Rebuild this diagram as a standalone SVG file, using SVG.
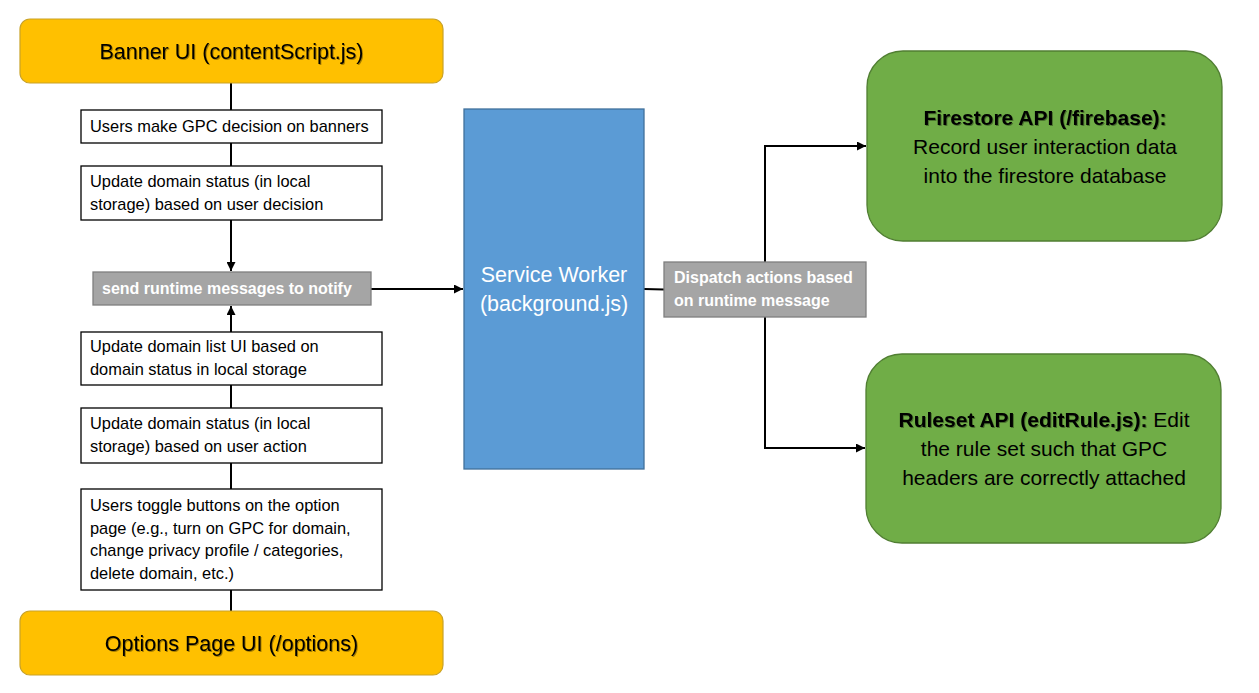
<svg xmlns="http://www.w3.org/2000/svg" width="1259" height="693" viewBox="0 0 1259 693">
<style>
text{font-family:"Liberation Sans",Arial,sans-serif;}
.yel{fill:#FFC000;stroke:#C9A227;stroke-width:1.2;}
.box{fill:#FFFFFF;stroke:#000000;stroke-width:1.3;}
.gray{fill:#A5A5A5;stroke:#7F7F7F;stroke-width:1.3;}
.blue{fill:#5B9BD5;stroke:#41719C;stroke-width:1.3;}
.green{fill:#70AD47;stroke:#507E32;stroke-width:1.3;}
.t16{font-size:16.4px;fill:#000;}
.tw{font-size:16px;font-weight:bold;fill:#FFFFFF;}
.big{font-size:21.5px;fill:#000;}
.sw{font-size:21.5px;fill:#FFFFFF;}
.gt{font-size:21px;fill:#000;}
.ln{stroke:#000;stroke-width:2;fill:none;}
</style>
<defs>
<marker id="arr" viewBox="0 0 10 10" refX="10" refY="5" markerWidth="4.5" markerHeight="4.5" orient="auto" markerUnits="strokeWidth">
<path d="M0,0 L10,5 L0,10 z" fill="#000"/>
</marker>
<filter id="sh" x="-5%" y="-20%" width="110%" height="140%">
<feDropShadow dx="1" dy="1" stdDeviation="0.6" flood-color="#000" flood-opacity="0.35"/>
</filter>
</defs>
<g id="connectors">
<line class="ln" x1="231" y1="83" x2="231" y2="110"/>
<line class="ln" x1="231" y1="143" x2="231" y2="166"/>
<line class="ln" x1="231" y1="220" x2="231" y2="271" marker-end="url(#arr)"/>
<line class="ln" x1="231" y1="332" x2="231" y2="306" marker-end="url(#arr)"/>
<line class="ln" x1="231" y1="385" x2="231" y2="408"/>
<line class="ln" x1="231" y1="463" x2="231" y2="489"/>
<line class="ln" x1="231" y1="590" x2="231" y2="611"/>
<line class="ln" x1="371" y1="289" x2="463" y2="289" marker-end="url(#arr)"/>
<line class="ln" x1="644" y1="289" x2="664" y2="289.5"/>
<polyline class="ln" points="765,262 765,146 866,146" marker-end="url(#arr)"/>
<polyline class="ln" points="765,317 765,448 865,448" marker-end="url(#arr)"/>
</g>
<g id="banner">
<rect class="yel" x="20" y="19" width="423" height="64" rx="10"/>
<text class="big" x="231.5" y="59" text-anchor="middle" filter="url(#sh)">Banner UI (contentScript.js)</text>
</g>
<g id="decision">
<rect class="box" x="81" y="110" width="301" height="33"/>
<text class="t16" x="90" y="132">Users make GPC decision on banners</text>
</g>
<g id="update-status-banner">
<rect class="box" x="81" y="166" width="301" height="54"/>
<text class="t16" x="90" y="187">Update domain status (in local</text>
<text class="t16" x="90" y="210">storage) based on user decision</text>
</g>
<g id="send-runtime">
<rect class="gray" x="93" y="272" width="278" height="33"/>
<text class="tw" x="102" y="294">send runtime messages to notify</text>
</g>
<g id="update-list">
<rect class="box" x="81" y="332" width="301" height="53"/>
<text class="t16" x="90" y="352">Update domain list UI based on</text>
<text class="t16" x="90" y="375">domain status in local storage</text>
</g>
<g id="update-status-action">
<rect class="box" x="81" y="408" width="301" height="55"/>
<text class="t16" x="90" y="429">Update domain status (in local</text>
<text class="t16" x="90" y="452">storage) based on user action</text>
</g>
<g id="toggle">
<rect class="box" x="81" y="489" width="301" height="101"/>
<text class="t16" x="90" y="511">Users toggle buttons on the option</text>
<text class="t16" x="90" y="534">page (e.g., turn on GPC for domain,</text>
<text class="t16" x="90" y="556">change privacy profile / categories,</text>
<text class="t16" x="90" y="579">delete domain, etc.)</text>
</g>
<g id="options">
<rect class="yel" x="20" y="611" width="423" height="64" rx="10"/>
<text class="big" x="231.5" y="651" text-anchor="middle" filter="url(#sh)">Options Page UI (/options)</text>
</g>
<g id="service-worker">
<rect class="blue" x="464" y="109" width="180" height="360"/>
<text class="sw" x="554" y="282" text-anchor="middle">Service Worker</text>
<text class="sw" x="554" y="311" text-anchor="middle">(background.js)</text>
</g>
<g id="dispatch">
<rect class="gray" x="664" y="262" width="202" height="55"/>
<text class="tw" x="674" y="283">Dispatch actions based</text>
<text class="tw" x="674" y="306">on runtime message</text>
</g>
<g id="firestore">
<rect class="green" x="867" y="51" width="355" height="190" rx="36"/>
<text class="gt" x="1045" y="125" text-anchor="middle" font-weight="bold" filter="url(#sh)">Firestore API (/firebase):</text>
<text class="gt" x="1045" y="154" text-anchor="middle">Record user interaction data</text>
<text class="gt" x="1045" y="183" text-anchor="middle">into the firestore database</text>
</g>
<g id="ruleset">
<rect class="green" x="866" y="354" width="355" height="189" rx="36"/>
<text class="gt" x="1044" y="427" text-anchor="middle"><tspan font-weight="bold" filter="url(#sh)">Ruleset API (editRule.js):</tspan> Edit</text>
<text class="gt" x="1044" y="456" text-anchor="middle">the rule set such that GPC</text>
<text class="gt" x="1044" y="485" text-anchor="middle">headers are correctly attached</text>
</g>
</svg>
